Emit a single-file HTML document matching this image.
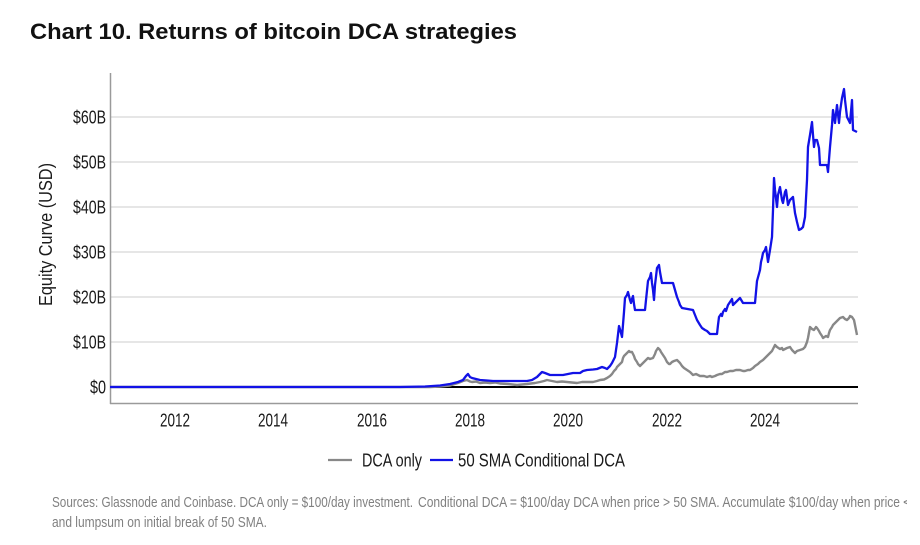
<!DOCTYPE html>
<html>
<head>
<meta charset="utf-8">
<style>
  html,body{margin:0;padding:0;background:#fff;}
  body{width:920px;height:545px;overflow:hidden;}
  svg{display:block;}
  text{font-family:"Liberation Sans",Arial,sans-serif;}
</style>
</head>
<body>
<svg width="920" height="545" viewBox="0 0 920 545" xmlns="http://www.w3.org/2000/svg">
  <defs>
    <clipPath id="fnclip"><rect x="0" y="480" width="907" height="65"/></clipPath>
  </defs>
  <!-- Title -->
  <text x="30" y="39" font-size="22" font-weight="bold" fill="#111" textLength="487" lengthAdjust="spacingAndGlyphs">Chart 10. Returns of bitcoin DCA strategies</text>

  <!-- gridlines -->
  <g stroke="#dedede" stroke-width="1.5">
    <line x1="111" y1="117" x2="858" y2="117"/>
    <line x1="111" y1="162" x2="858" y2="162"/>
    <line x1="111" y1="207" x2="858" y2="207"/>
    <line x1="111" y1="252" x2="858" y2="252"/>
    <line x1="111" y1="297" x2="858" y2="297"/>
    <line x1="111" y1="342" x2="858" y2="342"/>
  </g>

  <!-- axes -->
  <line x1="110.5" y1="73" x2="110.5" y2="404" stroke="#9a9a9a" stroke-width="1.5"/>
  <line x1="110" y1="403.5" x2="858" y2="403.5" stroke="#9a9a9a" stroke-width="1.5"/>

  <!-- zero line -->
  <line x1="111" y1="387" x2="858" y2="387" stroke="#000" stroke-width="2"/>

  <!-- y tick labels -->
  <g font-size="18" fill="#1a1a1a" text-anchor="end">
    <text x="106" y="123.5" textLength="33" lengthAdjust="spacingAndGlyphs">$60B</text>
    <text x="106" y="168.5" textLength="33" lengthAdjust="spacingAndGlyphs">$50B</text>
    <text x="106" y="213.5" textLength="33" lengthAdjust="spacingAndGlyphs">$40B</text>
    <text x="106" y="258.5" textLength="33" lengthAdjust="spacingAndGlyphs">$30B</text>
    <text x="106" y="303.5" textLength="33" lengthAdjust="spacingAndGlyphs">$20B</text>
    <text x="106" y="348.5" textLength="33" lengthAdjust="spacingAndGlyphs">$10B</text>
    <text x="106" y="393.5" textLength="16" lengthAdjust="spacingAndGlyphs">$0</text>
  </g>

  <!-- y axis title -->
  <text transform="translate(52,234.5) rotate(-90)" x="0" y="0" font-size="18" fill="#1a1a1a" text-anchor="middle" textLength="143" lengthAdjust="spacingAndGlyphs">Equity Curve (USD)</text>

  <!-- x tick labels -->
  <g font-size="18" fill="#1a1a1a" text-anchor="middle">
    <text x="175" y="426.5" textLength="30" lengthAdjust="spacingAndGlyphs">2012</text>
    <text x="273" y="426.5" textLength="30" lengthAdjust="spacingAndGlyphs">2014</text>
    <text x="372" y="426.5" textLength="30" lengthAdjust="spacingAndGlyphs">2016</text>
    <text x="470" y="426.5" textLength="30" lengthAdjust="spacingAndGlyphs">2018</text>
    <text x="568" y="426.5" textLength="30" lengthAdjust="spacingAndGlyphs">2020</text>
    <text x="667" y="426.5" textLength="30" lengthAdjust="spacingAndGlyphs">2022</text>
    <text x="765" y="426.5" textLength="30" lengthAdjust="spacingAndGlyphs">2024</text>
  </g>

  <!-- DCA only (gray) -->
  <polyline fill="none" stroke="#888" stroke-width="2.4" stroke-linejoin="round" points="
    110,387 430,387 440,386.5 450,385.5 458,383 463,381 467,380 470,381.5 472,382 476,381.5 480,383 485,382.5 490,383 495,382.5 500,383.5 508,384 517,385 522,384.5 527,384 535,383 540,382 544,381 547,380 552,381 557,382 562,381.5 567,382 572,382.5 577,383 582,382 587,382 593,382 597,381 600,380 604,379.5 607,378 610,376 612,374 614,371 616,369 617,367 619,365 620,364 622,362 623,358 624,356 626,354 627,353 629,351 630,352 632,352 634,356 635,359 637,362 638,364 640,366 642,364 644,362 646,360 648,358 650,359 653,358 655,354 656,351 658,348 660,350 661,352 663,355 665,358 667,362 669,364 670,364 672,362 674,361 677,360 680,363 682,366 684,368 687,370 690,372 693,375 696,374 700,376 704,376 707,377 710,376 712,377 715,376 717,375 720,374 722,374 725,372 727,372 730,371 733,371 736,370 740,370 743,371 745,371 748,370 750,370 753,368 755,366 758,364 760,362 763,360 765,358 768,355 770,353 772,351 773,349 775,345 777,347 780,349 782,348 783,350 785,349 787,348 790,347 792,350 795,353 797,351 800,350 803,349 805,347 807,342 808,338 810,327 812,329 814,330 816,327 817,328 819,331 820,333 822,336 823,338 826,336 828,337 829,333 830,330 832,327 833,325 836,322 838,320 840,318 843,317 845,319 847,320 849,318 850,316 852,317 854,320 855,325 856,330 857,335"/>

  <!-- 50 SMA Conditional DCA (blue) -->
  <polyline fill="none" stroke="#1212e6" stroke-width="2.3" stroke-linejoin="round" points="
    110,387 400,387 425,386.5 440,385.5 450,384 458,382 463,380 466,376 468,374 470,377 472,378 476,379 480,380 487,380.5 493,381 510,381 527,381 532,380 537,377 540,374 542,372 545,373 550,375 556,375 563,375 568,374 573,373 580,373 583,371 587,370 593,369.5 597,369 602,367 605,368 607,369 610,366 612,363 615,357 617,343 619,326 621,333 622,337 624,312 625,298 627,295 628,292 630,300 631,303 632,299 633,296 634,304 635,310 645,310 646,300 648,281 650,277 651,273 652,283 653,290 654,300 655,285 657,268 659,265 660,272 662,283 673,283 675,290 677,297 679,302 680,305 682,308 693,310 695,315 697,320 700,325 702,328 705,330 707,331 709,333 710,334 717,334 718,325 719,317 721,314 722,316 723,312 725,309 726,311 728,305 730,302 732,299 733,305 736,302 740,298 743,303 753,303 755,303 757,281 760,270 761,262 762,258 763,253 765,250 766,247 768,262 770,250 772,237 773,210 774,178 775,190 777,207 778,195 780,187 782,200 783,203 785,192 786,190 788,205 790,200 793,197 795,213 797,222 799,230 801,229 803,227 805,217 807,180 808,147 810,135 812,122 813,135 814,147 815,140 817,140 819,148 820,165 827,165 828,172 830,147 832,125 833,110 835,123 837,105 839,123 840,112 842,98 844,89 845,100 847,117 850,123 852,100 853,130 857,132"/>

  <!-- legend -->
  <line x1="328" y1="460" x2="352" y2="460" stroke="#888" stroke-width="2.2"/>
  <text x="362" y="466.5" font-size="18" fill="#1a1a1a" textLength="60" lengthAdjust="spacingAndGlyphs">DCA only</text>
  <line x1="430" y1="460" x2="453" y2="460" stroke="#1212e6" stroke-width="2.2"/>
  <text x="458" y="466.5" font-size="18" fill="#1a1a1a" textLength="167" lengthAdjust="spacingAndGlyphs">50 SMA Conditional DCA</text>

  <!-- footnote -->
  <g font-size="15" fill="#808080" clip-path="url(#fnclip)">
    <text x="52" y="507" textLength="361" lengthAdjust="spacingAndGlyphs">Sources: Glassnode and Coinbase. DCA only = $100/day investment.</text>
    <text x="418" y="507" textLength="482" lengthAdjust="spacingAndGlyphs">Conditional DCA = $100/day DCA when price &gt; 50 SMA. Accumulate $100/day when price</text>
    <text x="903" y="507">&lt;</text>
    <text x="52" y="527" textLength="215" lengthAdjust="spacingAndGlyphs">and lumpsum on initial break of 50 SMA.</text>
  </g>
</svg>
</body>
</html>
